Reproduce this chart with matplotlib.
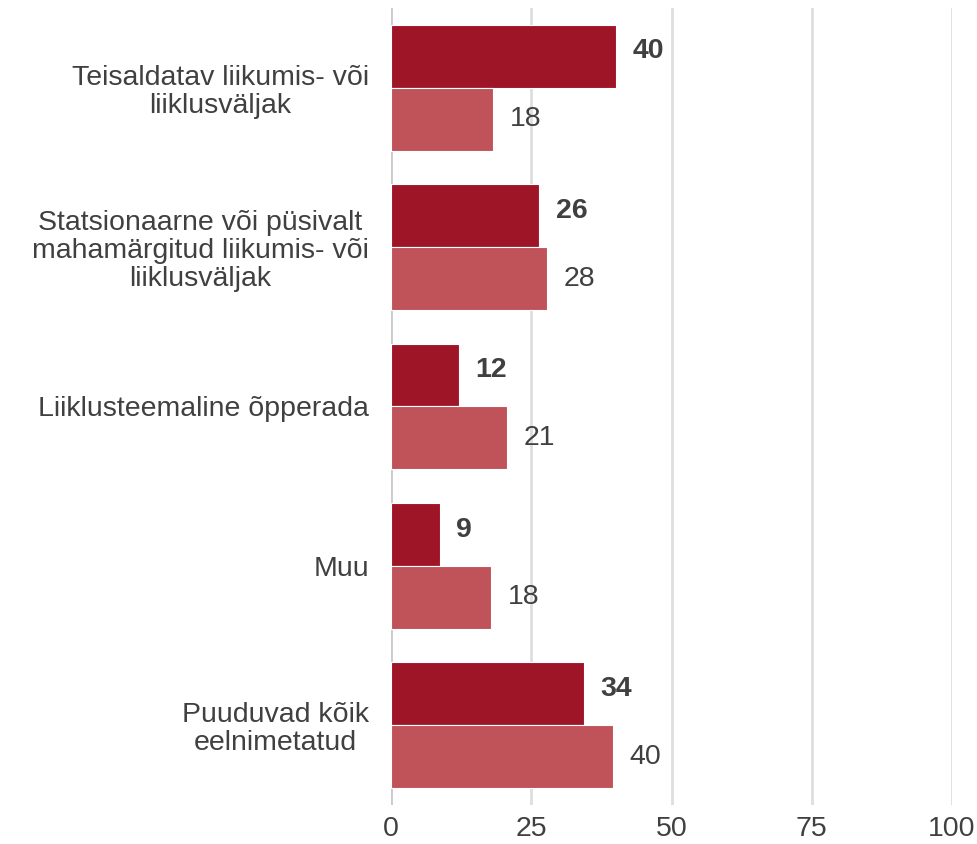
import numpy as np
import matplotlib
matplotlib.use('Agg')
import matplotlib.pyplot as plt

plt.rcParams['font.family'] = ['Liberation Sans', 'DejaVu Sans']

# Data
categories = [
    'Teisaldatav liikumis- või\nliiklusväljak',
    'Statsionaarne või püsivalt\nmahamärgitud liikumis- või\nliiklusväljak',
    'Liiklusteemaline õpperada',
    'Muu',
    'Puuduvad kõik\neelnimetatud',
]
series_a = [40.1, 26.4, 12.1, 8.7, 34.4]
series_b = [18.2, 27.8, 20.7, 17.8, 39.6]
x_ticks = [0, 25, 50, 75, 100]

DARK = '#9e1527'
LIGHT = '#bf5359'
TEXT = '#404040'
GRID = '#dedede'

fig = plt.figure(figsize=(9.78, 8.44), dpi=100)
ax = fig.add_axes([391 / 978, 1 - 805 / 844, (952 - 391) / 978, 797 / 844])

y = np.arange(len(categories))
h = 0.395

bars_a = ax.barh(y - h / 2, series_a, height=h, color=DARK,
                 edgecolor='white', linewidth=0.8, zorder=3)
bars_b = ax.barh(y + h / 2, series_b, height=h, color=LIGHT,
                 edgecolor='white', linewidth=0.8, zorder=3)

for bar, val in zip(bars_a, series_a):
    ax.annotate('{:.0f}'.format(val), (val, bar.get_y() + bar.get_height() / 2 - 0.03),
                xytext=(12, 0), textcoords='offset points', ha='left', va='center',
                fontsize=20.5, fontweight='bold', color=TEXT)
for bar, val in zip(bars_b, series_b):
    ax.annotate('{:.0f}'.format(val), (val, bar.get_y() + bar.get_height() / 2),
                xytext=(12, 0), textcoords='offset points', ha='left', va='center',
                fontsize=20.5, color=TEXT)

ax.set_xlim(0, 100)
ax.set_ylim(len(categories) - 0.5, -0.5)

ax.set_xticks(x_ticks)
ax.set_xticklabels([str(t) for t in x_ticks])
ax.set_yticks(y)
ax.set_yticklabels(categories, multialignment='center', linespacing=1.1)
ax.tick_params(axis='x', length=0, pad=8, labelsize=20.5, labelcolor=TEXT)
ax.tick_params(axis='y', length=0, pad=16, labelsize=20.5, labelcolor=TEXT)
for lab in ax.get_xticklabels():
    lab.set_clip_on(False)

ax.xaxis.grid(True, color=GRID, linewidth=2)
ax.set_axisbelow(True)
ax.axvline(0, color='#cccccc', linewidth=2, zorder=2)

for spine in ax.spines.values():
    spine.set_visible(False)

fig.savefig('out.png', dpi=100, facecolor='white')
